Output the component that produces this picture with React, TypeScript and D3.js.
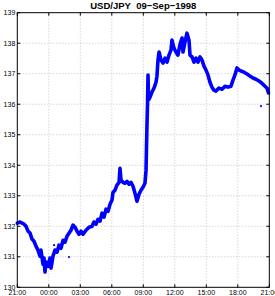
import React from "react";
import * as d3 from "d3";

const title = "USD/JPY\u00a0\u00a009\u2212Sep\u22121998";
const xTickLabels = ["21:00", "00:00", "03:00", "06:00", "09:00", "12:00", "15:00", "18:00", "21:00"];
const xTickHours = [0, 3, 6, 9, 12, 15, 18, 21, 24];
const yTicks = [130, 131, 132, 133, 134, 135, 136, 137, 138, 139];

// hours since 21:00 of previous day
const hours = [
  0, 0.26, 0.64, 0.83, 1.02, 1.21, 1.4, 1.59, 1.78, 1.97, 2.16, 2.25, 2.45, 2.54, 2.64, 2.73, 2.92, 3.11, 3.21, 3.4,
  3.59, 3.78, 3.97, 4.16, 4.36, 4.54, 4.73, 4.92, 5.11, 5.3, 5.5, 5.69, 5.88, 6.07, 6.26, 6.54, 6.83, 7.12, 7.3, 7.5,
  7.69, 7.88, 8.07, 8.26, 8.45, 8.64, 8.83, 9.02, 9.11, 9.3, 9.49, 9.69, 9.78, 9.88, 10.07, 10.26, 10.45, 10.64, 10.83,
  11.02, 11.21, 11.4, 11.59, 11.78, 11.97, 12.16, 12.26, 12.3, 12.35, 12.4, 12.45, 12.5, 12.64, 12.83, 13.02, 13.21,
  13.3, 13.4, 13.5, 13.69, 13.88, 14.07, 14.26, 14.45, 14.64, 14.73, 14.92, 15.1, 15.3, 15.5, 15.69, 15.78, 15.97,
  16.16, 16.35, 16.45, 16.64, 16.83, 17.02, 17.21, 17.4, 17.59, 17.78, 17.97, 18.16, 18.35, 18.54, 18.73, 18.92, 19.2,
  19.5, 19.78, 20.07, 20.35, 20.54, 20.73, 20.92, 21.12, 21.3, 21.59, 21.88, 22.16, 22.45, 22.73, 23.02, 23.3, 23.59,
  23.78, 23.92,
];
const prices = [
  132.1, 132.14, 132.07, 132.0, 131.84, 131.78, 131.58, 131.51, 131.35, 131.22, 131.02, 131.22, 130.76, 130.96, 130.5,
  130.83, 130.69, 130.96, 130.63, 131.02, 131.22, 131.15, 131.38, 131.28, 131.54, 131.48, 131.67, 131.77, 131.87, 132.04,
  131.97, 131.84, 131.74, 131.84, 131.74, 131.87, 131.97, 132.0, 132.14, 132.07, 132.23, 132.17, 132.43, 132.3, 132.56,
  132.49, 132.72, 132.86, 133.11, 133.18, 133.35, 133.44, 133.9, 133.51, 133.44, 133.41, 133.47, 133.38, 133.44, 133.31,
  133.08, 132.82, 133.05, 133.18, 133.28, 133.41, 133.84, 134.5, 135.32, 135.97, 136.96, 136.14, 136.23, 136.4, 136.53,
  136.72, 136.92, 137.45, 137.71, 137.45, 137.35, 137.51, 137.38, 137.61, 137.78, 138.1, 137.84, 137.71, 137.61, 137.97,
  138.17, 137.71, 138.04, 138.33, 138.1, 137.61, 137.55, 137.38, 137.51, 137.38, 137.55, 137.45, 137.25, 137.12, 136.96,
  136.72, 136.56, 136.46, 136.43, 136.53, 136.49, 136.59, 136.56, 136.59, 136.79, 136.96, 137.19, 137.12, 137.09, 137.05,
  136.99, 136.92, 136.86, 136.82, 136.76, 136.69, 136.59, 136.53, 136.37,
];
// isolated ticks
const outlierHours = [3.5, 4.92, 23.21];
const outlierPrices = [131.38, 130.99, 135.94];

export default function App() {
  const W = 275, H = 296;
  const left = 17.3, right = 269.3, top = 12.7, bottom = 287.3;
  const x = d3.scaleLinear().domain([0, 24]).range([left, right]);
  const y = d3.scaleLinear().domain([130, 139]).range([bottom, top]);
  const line = d3.line<number>().x((_, i) => x(hours[i])).y((d) => y(d));
  const blue = "#0000ff";
  const font = "Liberation Sans, Arial, Helvetica, sans-serif";
  return (
    <svg width={W} height={H} style={{ position: "absolute", left: 0, top: 0, background: "#fff" }}>
      <rect x={0} y={0} width={W} height={H} fill="#fff" />
      {/* grid */}
      {xTickHours.slice(1, -1).map((h) => (
        <line key={"gx" + h} x1={x(h)} x2={x(h)} y1={top} y2={bottom} stroke="#aaa" strokeWidth={0.7} strokeDasharray="1,2" />
      ))}
      {yTicks.slice(1, -1).map((v) => (
        <line key={"gy" + v} x1={left} x2={right} y1={y(v)} y2={y(v)} stroke="#aaa" strokeWidth={0.7} strokeDasharray="1,2" />
      ))}
      {/* data */}
      <path d={line(prices) || ""} fill="none" stroke={blue} strokeWidth={3.6} strokeLinejoin="round" strokeLinecap="round" />
      {outlierHours.map((h, i) => (
        <circle key={"o" + i} cx={x(h)} cy={y(outlierPrices[i])} r={1.1} fill={blue} />
      ))}
      {/* box */}
      <rect x={left} y={top} width={right - left} height={bottom - top} fill="none" stroke="#000" strokeWidth={1} />
      {/* ticks */}
      {xTickHours.map((h, i) => (
        <g key={"xt" + i}>
          <line x1={x(h)} x2={x(h)} y1={bottom} y2={bottom - 3} stroke="#000" />
          <line x1={x(h)} x2={x(h)} y1={top} y2={top + 3} stroke="#000" />
          <text x={x(h)} y={bottom + 8} fontSize={7} fontFamily={font} textAnchor="middle">{xTickLabels[i]}</text>
        </g>
      ))}
      {yTicks.map((v) => (
        <g key={"yt" + v}>
          <line x1={left} x2={left + 3} y1={y(v)} y2={y(v)} stroke="#000" />
          <line x1={right} x2={right - 3} y1={y(v)} y2={y(v)} stroke="#000" />
          <text x={left - 2} y={y(v) + 2.5} fontSize={7} fontFamily={font} textAnchor="end">{v}</text>
        </g>
      ))}
      <text x={(left + right) / 2} y={9} fontSize={9.5} fontWeight="bold" fontFamily={font} textAnchor="middle">{title}</text>
    </svg>
  );
}
